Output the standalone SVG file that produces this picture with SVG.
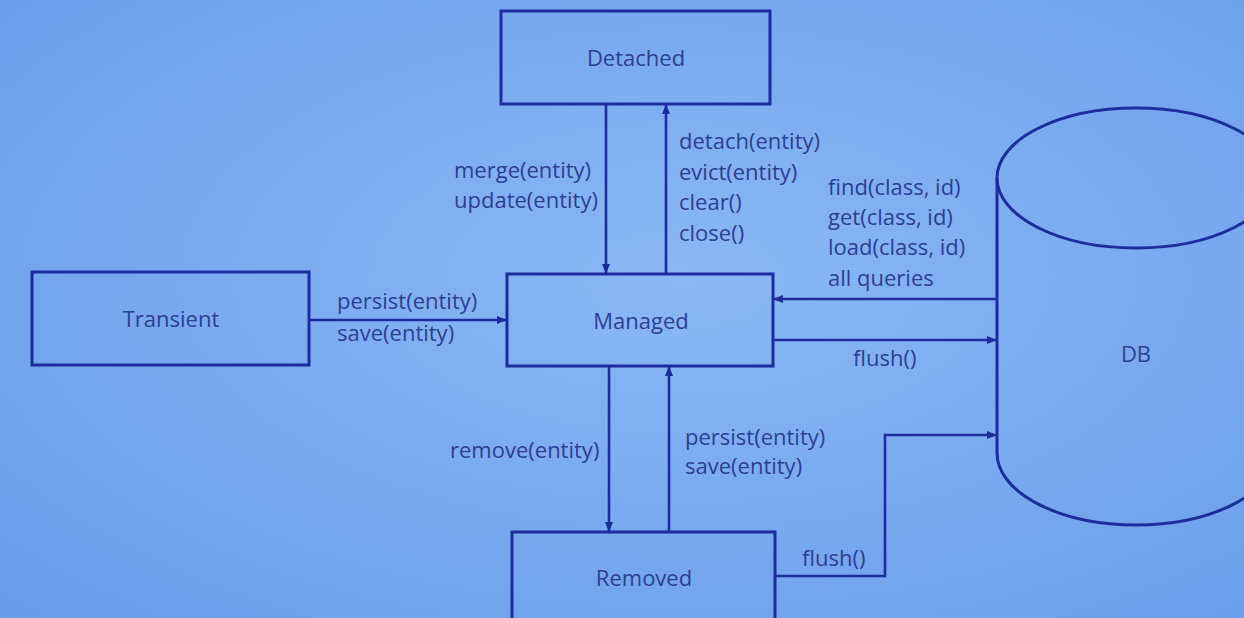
<svg xmlns="http://www.w3.org/2000/svg" width="1244" height="618" viewBox="0 0 1244 618">
<style>
.box{fill:none;stroke:#1c2d9c;stroke-width:3}
.ln{fill:none;stroke:#1c2d9c;stroke-width:2.6}
text{font-family:"Open Sans","Noto Sans",sans-serif;font-size:22px;fill:#2c3f92}
.c{text-anchor:middle}
</style>
<defs>
<radialGradient id="bg" cx="0.55" cy="0.45" r="0.75">
<stop offset="0" stop-color="#8ab8f6"/>
<stop offset="1" stop-color="#6a9de9"/>
</radialGradient>
<marker id="ah" viewBox="0 0 10 10" refX="9" refY="5" markerWidth="10" markerHeight="10" markerUnits="userSpaceOnUse" orient="auto">
<path d="M0,1 L10,5 L0,9 z" fill="#1c2d9c"/>
</marker>
</defs>
<rect x="0" y="0" width="1244" height="618" fill="url(#bg)"/>

<g id="detached"><rect class="box" x="501" y="11" width="269" height="93"/><text class="c" x="636" y="66">Detached</text></g>
<g id="transient"><rect class="box" x="32" y="272" width="277" height="93"/><text class="c" x="171" y="327">Transient</text></g>
<g id="managed"><rect class="box" x="507" y="274" width="266" height="92"/><text class="c" x="641" y="329">Managed</text></g>
<g id="removed"><rect class="box" x="512" y="532" width="263" height="100"/><text class="c" x="644" y="586">Removed</text></g>
<g id="db">
<path class="box" d="M997,178 L997,453 A139,72 0 0 0 1275,453 L1275,178"/>
<ellipse class="box" cx="1136" cy="178" rx="139" ry="70"/>
<text class="c" x="1136" y="362">DB</text>
</g>

<g id="connectors">
<line class="ln" x1="606" y1="104" x2="606" y2="273" marker-end="url(#ah)"/>
<line class="ln" x1="666" y1="274" x2="666" y2="105" marker-end="url(#ah)"/>
<line class="ln" x1="309" y1="320" x2="506" y2="320" marker-end="url(#ah)"/>
<line class="ln" x1="997" y1="299" x2="774" y2="299" marker-end="url(#ah)"/>
<line class="ln" x1="774" y1="340" x2="996" y2="340" marker-end="url(#ah)"/>
<line class="ln" x1="609" y1="366" x2="609" y2="531" marker-end="url(#ah)"/>
<line class="ln" x1="669" y1="532" x2="669" y2="367" marker-end="url(#ah)"/>
<polyline class="ln" points="775,576 885,576 885,435 996,435" marker-end="url(#ah)"/>
</g>

<g id="labels">
<text x="454" y="178">merge(entity)</text>
<text x="454" y="208">update(entity)</text>
<text x="679" y="149">detach(entity)</text>
<text x="679" y="180">evict(entity)</text>
<text x="679" y="210">clear()</text>
<text x="679" y="241">close()</text>
<text x="828" y="195">find(class, id)</text>
<text x="828" y="225">get(class, id)</text>
<text x="828" y="255">load(class, id)</text>
<text x="828" y="286">all queries</text>
<text x="337" y="309">persist(entity)</text>
<text x="337" y="341">save(entity)</text>
<text x="853" y="366">flush()</text>
<text x="450" y="458">remove(entity)</text>
<text x="685" y="445">persist(entity)</text>
<text x="685" y="474">save(entity)</text>
<text x="802" y="566">flush()</text>
</g>
</svg>
